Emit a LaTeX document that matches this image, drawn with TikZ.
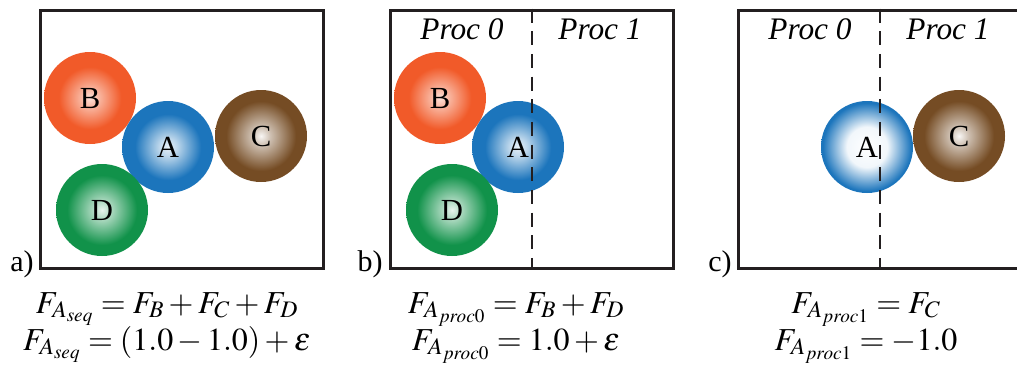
\documentclass[tikz,border=0pt]{standalone}
\usepackage{mathptmx}
\usepackage{fontspec}
\setmainfont{Liberation Serif}
\usetikzlibrary{positioning}
\definecolor{ablue}{HTML}{1C75BC}
\definecolor{borange}{HTML}{F15A29}
\definecolor{cbrown}{HTML}{754C24}
\definecolor{dgreen}{HTML}{11924A}
\definecolor{framegray}{HTML}{231F20}
% Sphere shadings (25bp is the rim of the circle)
\pgfdeclareradialshading{shadeA}{\pgfpointorigin}{%
  color(0bp)=(white!90!ablue); color(5bp)=(white!70!ablue); color(18bp)=(ablue); color(50bp)=(ablue)}
\pgfdeclareradialshading{shadeB}{\pgfpointorigin}{%
  color(0bp)=(white!82!borange); color(5bp)=(white!55!borange); color(17bp)=(borange); color(50bp)=(borange)}
\pgfdeclareradialshading{shadeC}{\pgfpointorigin}{%
  color(0bp)=(white!95!cbrown); color(5bp)=(white!65!cbrown); color(19bp)=(cbrown); color(50bp)=(cbrown)}
\pgfdeclareradialshading{shadeD}{\pgfpointorigin}{%
  color(0bp)=(white!90!dgreen); color(5bp)=(white!65!dgreen); color(19bp)=(dgreen); color(50bp)=(dgreen)}
\pgfdeclareradialshading{shadeAghost}{\pgfpointorigin}{%
  color(0bp)=(white); color(11bp)=(white!94!ablue); color(24bp)=(ablue); color(50bp)=(ablue)}
\tikzset{
  % Particles
  ball/.style={
    circle, shade, shading=#1, minimum size=69pt,
    inner sep=0pt, font=\fontsize{23}{27}\selectfont, text=black,
  },
  % Domain frames and processor split
  framebox/.style={
    draw=framegray, line width=2.25pt,
    minimum width=212.25pt, minimum height=193.5pt, inner sep=0pt,
  },
  split/.style={draw=framegray, line width=1.5pt, dash pattern=on 10.5pt off 6.5pt},
  % Labels
  proclabel/.style={font=\itshape\fontsize{23.5}{28}\selectfont},
  panellabel/.style={font=\fontsize{22.5}{27}\selectfont, anchor=base},
  eqn/.style={font=\fontsize{24}{28}\selectfont, anchor=base, inner sep=0pt},
}
\begin{document}
\begin{tikzpicture}[x=0.75pt, y=-0.75pt]
  \useasboundingbox (0,0) rectangle (1017,365);
  % a) sequential
  \node[framebox] (boxa) at (181.5,139) {};
  \node[ball=shadeB] (Ba) at (90,98) {B};
  \node[ball=shadeA] (Aa) at (168,147) {A};
  \node[ball=shadeC] (Ca) at (261,136) {C};
  \node[ball=shadeD] (Da) at (102,210) {D};
  \node[panellabel] (laba) at (22,271) {a)};
  \node[eqn] (eqa1) at (167,313) {$F_{A_{seq}} = F_B + F_C + F_D$};
  \node[eqn] (eqa2) at (167,350) {$F_{A_{seq}} = (1.0 - 1.0) + \varepsilon$};
  % b) processor 0
  \node[framebox] (boxb) at (531.5,139) {};
  \node[ball=shadeB] (Bb) at (440,98) {B};
  \node[ball=shadeA] (Ab) at (518,147) {A};
  \node[ball=shadeD] (Db) at (452,210) {D};
  \draw[split] (boxb.north) -- (boxb.south);
  \node[proclabel] (p0b) at (462,29) {Proc 0};
  \node[proclabel] (p1b) at (600,29) {Proc 1};
  \node[panellabel] (labb) at (370,271) {b)};
  \node[eqn] (eqb1) at (516,313) {$F_{A_{proc0}} = F_B + F_D$};
  \node[eqn] (eqb2) at (516,350) {$F_{A_{proc0}} = 1.0 + \varepsilon$};
  % c) processor 1
  \node[framebox] (boxc) at (879.5,139) {};
  \node[ball=shadeAghost] (Ac) at (867,147) {A};
  \node[ball=shadeC] (Cc) at (959,136) {C};
  \draw[split] (boxc.north) -- (boxc.south);
  \node[proclabel] (p0c) at (810,29) {Proc 0};
  \node[proclabel] (p1c) at (948,29) {Proc 1};
  \node[panellabel] (labc) at (720,271) {c)};
  \node[eqn] (eqc1) at (866,313) {$F_{A_{proc1}} = F_C$};
  \node[eqn] (eqc2) at (866,350) {$F_{A_{proc1}} = -1.0$};
\end{tikzpicture}
\end{document}
